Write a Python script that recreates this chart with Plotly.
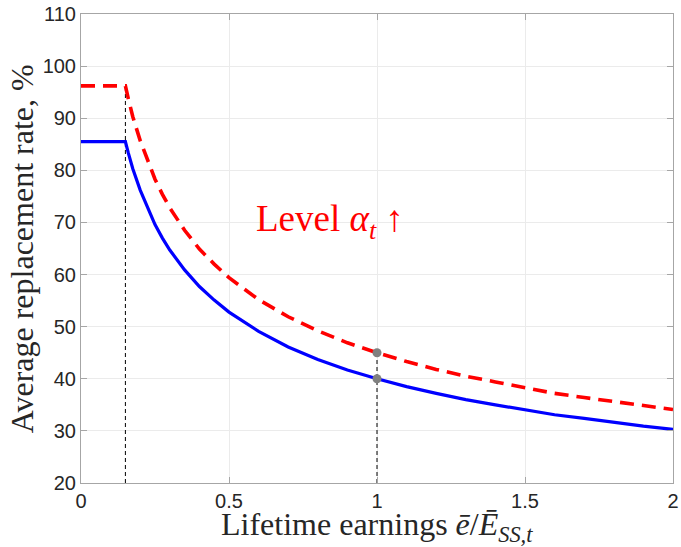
import plotly.graph_objects as go

# Lifetime earnings relative to economy-wide average (x) and replacement rates (%)
earnings = [0, 0.15, 0.16, 0.175, 0.2, 0.225, 0.25, 0.275, 0.3, 0.35, 0.4, 0.45, 0.5, 0.6, 0.7, 0.8,
            0.9, 1.0, 1.1, 1.2, 1.3, 1.4, 1.5, 1.6, 1.7, 1.8, 1.9, 2.0]
rate_base = [85.5, 85.5, 83.3, 80.3, 76.2, 72.7, 69.6, 67.0, 64.7, 60.9, 57.7, 55.1, 52.8, 49.1, 46.1, 43.7,
             41.7, 40.0, 38.5, 37.2, 36.0, 35.0, 34.0, 33.1, 32.4, 31.6, 30.9, 30.3]
rate_level_up = [96.2, 96.2, 93.7, 90.3, 85.7, 81.8, 78.3, 75.4, 72.8, 68.5, 64.9, 62.0, 59.4, 55.2, 51.9, 49.2,
                 46.9, 45.0, 43.3, 41.8, 40.5, 39.4, 38.3, 37.2, 36.4, 35.6, 34.8, 34.1]

bend_x = 0.15
bend_top = 96.2
ref_x = 1.0
ref_points = [40.0, 45.0]

x_ticks = [0, 0.5, 1, 1.5, 2]
x_tick_text = ["0", "0.5", "1", "1.5", "2"]
y_ticks = [20, 30, 40, 50, 60, 70, 80, 90, 100, 110]

serif = "Liberation Serif, Times New Roman, serif"
sans = "Liberation Sans, Arial, Helvetica, sans-serif"

fig = go.Figure()

# vertical dotted guide lines
fig.add_trace(go.Scatter(x=[bend_x, bend_x], y=[20, bend_top], mode="lines",
                         line=dict(color="black", width=1, dash="4px,3px"),
                         hoverinfo="skip", showlegend=False))
fig.add_trace(go.Scatter(x=[ref_x, ref_x], y=[20, max(ref_points)], mode="lines",
                         line=dict(color="black", width=1, dash="4px,3px"),
                         hoverinfo="skip", showlegend=False))

fig.add_trace(go.Scatter(x=earnings, y=rate_base, mode="lines",
                         line=dict(color="#0000ff", width=3.2),
                         showlegend=False))
fig.add_trace(go.Scatter(x=earnings, y=rate_level_up, mode="lines",
                         line=dict(color="#ff0000", width=3.6, dash="14px,8px"),
                         showlegend=False))

fig.add_trace(go.Scatter(x=[ref_x, ref_x], y=ref_points, mode="markers",
                         marker=dict(color="#808080", size=9),
                         showlegend=False))

fig.add_annotation(x=0.84, y=70.2, xref="x", yref="y",
                   text="Level <i>α</i><sub><i>t</i></sub> ↑",
                   showarrow=False, xanchor="center", yanchor="middle",
                   font=dict(family=serif, size=37, color="#ff0000"))

fig.add_annotation(x=0.5, y=-0.093, xref="paper", yref="paper",
                   text="Lifetime earnings <i>ē</i>/<i>Ē</i><sub><i>SS,t</i></sub>",
                   showarrow=False, xanchor="center", yanchor="middle",
                   font=dict(family=serif, size=32, color="#262626"))
fig.add_annotation(x=-0.1, y=0.5, xref="paper", yref="paper",
                   text="Average replacement rate, %", textangle=-90,
                   showarrow=False, xanchor="center", yanchor="middle",
                   font=dict(family=serif, size=32, color="#262626"))

axis_common = dict(showgrid=True, gridcolor="#ebebeb", gridwidth=1,
                   showline=True, linecolor="#a6a6a6", linewidth=1, mirror="ticks",
                   ticks="inside", ticklen=6, tickcolor="#a6a6a6",
                   zeroline=False, automargin=False,
                   tickfont=dict(family=sans, size=20, color="#262626"))

fig.update_xaxes(range=[0, 2], tickvals=x_ticks, ticktext=x_tick_text, **axis_common)
fig.update_yaxes(range=[20, 110], tickvals=y_ticks, **axis_common)

fig.update_layout(width=681, height=547,
                  margin=dict(l=81, r=8, t=14, b=64),
                  plot_bgcolor="white", paper_bgcolor="white")

fig.write_html("out.html", config={"displayModeBar": False},
               post_script="document.body.style.margin='0';document.body.style.overflow='hidden';")
